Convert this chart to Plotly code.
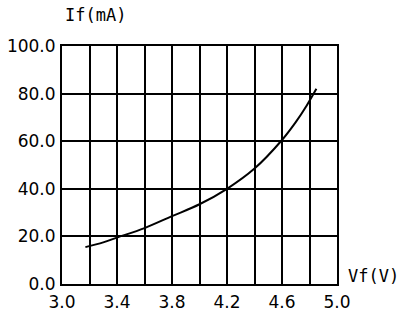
import plotly.graph_objects as go

vf = [3.17, 3.3, 3.4, 3.6, 3.8, 4.0, 4.2, 4.4, 4.6, 4.7, 4.78, 4.85]
i_f = [15.5, 17.5, 19.5, 23.5, 28.5, 33.5, 40.0, 48.5, 60.5, 68.0, 75.0, 82.0]

x_ticks = [3.0, 3.4, 3.8, 4.2, 4.6, 5.0]
y_ticks = [0, 20, 40, 60, 80, 100]
x_title = "Vf(V)"
y_title = "If(mA)"

font = dict(family="DejaVu Sans", size=17, color="black")
title_font = dict(family="DejaVu Sans Mono", size=17, color="black")

fig = go.Figure()
fig.add_trace(go.Scatter(x=vf, y=i_f, mode="lines", line=dict(color="black", width=2, shape="spline"),
                         showlegend=False, hoverinfo="skip"))

fig.update_layout(
    width=414, height=316,
    margin=dict(l=62, r=77, t=46, b=32),
    paper_bgcolor="white", plot_bgcolor="white",
    font=font,
    xaxis=dict(range=[3.0, 5.0], tickvals=x_ticks, ticktext=[f"{v:.1f}" for v in x_ticks],
               showgrid=True, gridcolor="black", gridwidth=2,
               minor=dict(dtick=0.2, showgrid=True, gridcolor="black", gridwidth=2),
               showline=True, linecolor="black", linewidth=2, mirror=True, automargin=False,
               zeroline=False, ticks="", ticklabelstandoff=2, fixedrange=True),
    yaxis=dict(range=[0, 100], tickvals=y_ticks, ticktext=[f"{v:.1f}" for v in y_ticks],
               showgrid=True, gridcolor="black", gridwidth=2,
               showline=True, linecolor="black", linewidth=2, mirror=True, automargin=False,
               zeroline=False, ticks="", ticklabelstandoff=1, fixedrange=True),
    annotations=[
        dict(text=y_title, xref="paper", yref="paper", x=0.0, y=1.0, xanchor="left", yanchor="middle",
             xshift=1, yshift=31, showarrow=False, font=title_font),
        dict(text=x_title, xref="paper", yref="paper", x=1.0, y=0.0, xanchor="left", yanchor="middle",
             xshift=9, yshift=8, showarrow=False, font=title_font),
    ],
)

fig.write_html("out.html", config={"displayModeBar": False},
               post_script="document.body.style.margin='0';document.body.style.overflow='hidden';")
